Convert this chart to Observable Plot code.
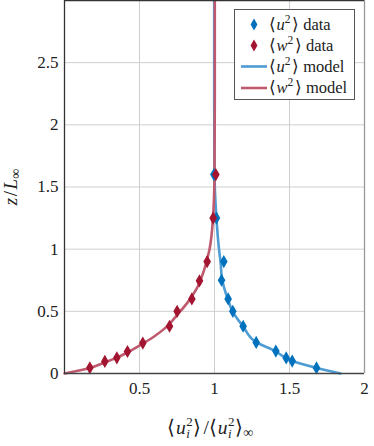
<!DOCTYPE html>
<html>
<head>
<meta charset="utf-8">
<script src="https://cdn.jsdelivr.net/npm/d3@7"></script>
<script src="https://cdn.jsdelivr.net/npm/@observablehq/plot@0.6"></script>
<style>
  html, body { margin: 0; padding: 0; background: #fff; font-family: "Liberation Serif", serif; }
  #chart { position: relative; width: 374px; height: 446px; }
</style>
</head>
<body>
<div id="chart"></div>
<script>
// ---- data ----
const uDataX = [1.68, 1.518, 1.478, 1.409, 1.278, 1.191, 1.122, 1.091, 1.047, 1.062, 1.013, 0.996];
const uDataZ = [0.045, 0.10, 0.125, 0.18, 0.25, 0.38, 0.50, 0.60, 0.75, 0.90, 1.25, 1.60];
const wDataX = [0.169, 0.269, 0.349, 0.42, 0.522, 0.70, 0.751, 0.849, 0.90, 0.951, 0.991, 1.009];
const wDataZ = [0.046, 0.097, 0.126, 0.177, 0.245, 0.38, 0.50, 0.60, 0.745, 0.90, 1.25, 1.60];

const uModelX = [1.84, 1.68, 1.52, 1.475, 1.405, 1.28, 1.19, 1.12, 1.088, 1.052, 1.04, 1.03, 1.013, 1.0, 0.998, 0.998];
const uModelZ = [0, 0.045, 0.10, 0.125, 0.18, 0.25, 0.38, 0.50, 0.60, 0.75, 0.90, 1.0, 1.25, 1.6, 2.2, 3.0];
const wModelX = [0, 0.17, 0.27, 0.35, 0.42, 0.52, 0.60, 0.68, 0.75, 0.82, 0.88, 0.93, 0.967, 0.99, 1.0, 1.002, 1.002];
const wModelZ = [0, 0.045, 0.09, 0.128, 0.17, 0.24, 0.30, 0.375, 0.47, 0.57, 0.68, 0.83, 1.0, 1.25, 1.6, 2.2, 3.0];

const xTicks = [0.5, 1, 1.5, 2];
const yTicks = [0, 0.5, 1, 1.5, 2, 2.5];
const xGrid = [0.5, 1, 1.5];
const yGrid = [0.5, 1, 1.5, 2, 2.5];

const blueMark = "#0072BD";
const redMark = "#A2142F";
const blueLine = "#4d9cd3";
const redLine = "#bf5a6e";

const uData = uDataX.map((x, i) => ({x, z: uDataZ[i]}));
const wData = wDataX.map((x, i) => ({x, z: wDataZ[i]}));
const uModel = uModelX.map((x, i) => ({x, z: uModelZ[i]}));
const wModel = wModelX.map((x, i) => ({x, z: wModelZ[i]}));

const font = "'Liberation Serif', serif";

const plot = Plot.plot({
  width: 374,
  height: 446,
  marginLeft: 64,
  marginRight: 10,
  marginTop: 0,
  marginBottom: 73,
  style: {fontFamily: font, fontSize: "17px", color: "#222", background: "#fff"},
  x: {domain: [0, 2], ticks: xTicks, tickSize: 0, tickPadding: 8, label: null, tickFormat: d => String(d)},
  y: {domain: [0, 3], ticks: yTicks, tickSize: 0, tickPadding: 6, label: null, tickFormat: d => String(d)},
  marks: [
    Plot.ruleX(xGrid, {stroke: "#cfcfcf", strokeWidth: 1}),
    Plot.ruleY(yGrid, {stroke: "#cfcfcf", strokeWidth: 1}),
    Plot.line(uModel, {x: "x", y: "z", curve: "monotone-y", stroke: blueLine, strokeWidth: 2.6}),
    Plot.line(wModel, {x: "x", y: "z", curve: "monotone-y", stroke: redLine, strokeWidth: 2.6}),
    Plot.dot(uData, {x: "x", y: "z", symbol: "diamond", r: 4, fill: blueMark, stroke: "none"}),
    Plot.dot(wData, {x: "x", y: "z", symbol: "diamond", r: 4, fill: redMark, stroke: "none"}),
    Plot.ruleX([2], {stroke: "#999", strokeWidth: 1.3}),
    Plot.ruleX([0], {stroke: "#333", strokeWidth: 1.3}),
    Plot.ruleY([0], {stroke: "#444", strokeWidth: 1.3}),
    Plot.ruleY([3], {stroke: "#333", strokeWidth: 1.6})
  ]
});

document.getElementById("chart").appendChild(plot);

const svg = d3.select(plot);
svg.selectAll("g").each(function() {
  this.removeAttribute("font-size");
  this.removeAttribute("font-family");
});
svg.selectAll("text")
  .style("font-family", font).style("font-size", "17px").style("fill", "#222");

// x label: <u_i^2>/<u_i^2>_inf
const xl = svg.append("text")
  .attr("x", 167).attr("y", 434).attr("text-anchor", "start")
  .style("font-family", font).style("font-size", "19.5px").attr("fill", "#222");
function addUi(t) {
  t.append("tspan").text("\u27E8");
  t.append("tspan").style("font-style", "italic").attr("dx", 1).text("u");
  t.append("tspan").style("font-size", "13px").attr("dy", -8).attr("dx", 0.5).text("2");
  t.append("tspan").style("font-size", "13px").style("font-style", "italic").attr("dx", -6.5).attr("dy", 12).text("i");
  t.append("tspan").attr("dy", -4).attr("dx", 3.5).text("\u27E9");
}
addUi(xl);
xl.append("tspan").attr("dx", 2).text("/");
addUi(xl);
xl.append("tspan").style("font-size", "14px").attr("dy", 3).text("\u221E");

// y label: z / L_inf
const yl = svg.append("text")
  .attr("transform", "translate(17,187) rotate(-90)")
  .attr("text-anchor", "middle")
  .style("font-family", font).style("font-size", "19px").attr("fill", "#222");
yl.append("tspan").style("font-style", "italic").text("z");
yl.append("tspan").attr("dx", 1.5).text("/");
yl.append("tspan").style("font-style", "italic").attr("dx", 1.5).text("L");
yl.append("tspan").style("font-size", "14px").attr("dy", 3).text("\u221E");

// legend
const lg = svg.append("g");
lg.append("rect").attr("x", 234.5).attr("y", 9.5).attr("width", 120).attr("height", 90)
  .attr("fill", "#fff").attr("stroke", "#555").attr("stroke-width", 1);
const entries = [
  {sym: "u", kind: "data", color: blueMark, line: blueLine, y: 24.5},
  {sym: "w", kind: "data", color: redMark, line: redLine, y: 45.5},
  {sym: "u", kind: "model", color: blueMark, line: blueLine, y: 66.5},
  {sym: "w", kind: "model", color: redMark, line: redLine, y: 88}
];
const diamond = d3.symbol(d3.symbolDiamond, 40)();
entries.forEach(e => {
  if (e.kind === "data") {
    lg.append("path").attr("d", diamond).attr("transform", `translate(254,${e.y})`).attr("fill", e.color);
  } else {
    lg.append("line").attr("x1", 241).attr("x2", 267).attr("y1", e.y).attr("y2", e.y)
      .attr("stroke", e.line).attr("stroke-width", 2.6);
  }
  const t = lg.append("text").attr("x", 269).attr("y", e.y + 5).attr("text-anchor", "start")
    .style("font-family", font).style("font-size", "16.5px").attr("fill", "#222");
  t.append("tspan").text("\u27E8");
  t.append("tspan").style("font-style", "italic").attr("dx", 0.5).text(e.sym);
  t.append("tspan").style("font-size", "11.5px").attr("dy", -7).text("2");
  t.append("tspan").attr("dy", 7).attr("dx", 1.5).text("\u27E9 " + e.kind);
});
</script>
</body>
</html>
